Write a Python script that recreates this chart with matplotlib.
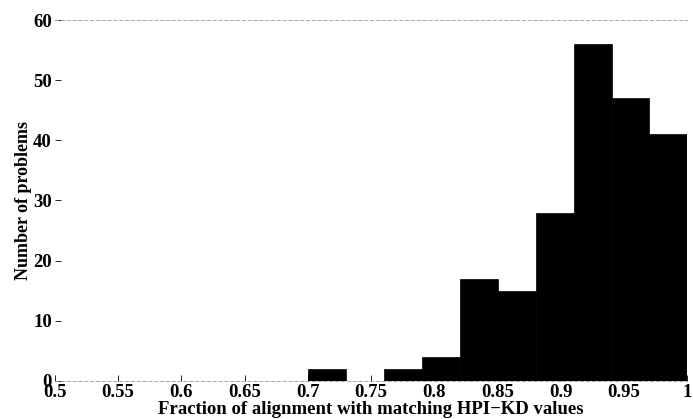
import matplotlib
matplotlib.use("Agg")
import matplotlib.pyplot as plt
import numpy as np

bin_edges = [0.70, 0.73, 0.76, 0.79, 0.82, 0.85, 0.88, 0.91, 0.94, 0.97, 1.00]
counts = [2, 0, 2, 4, 17, 15, 28, 56, 47, 41]
xticks = [0.5, 0.55, 0.6, 0.65, 0.7, 0.75, 0.8, 0.85, 0.9, 0.95, 1]
xtick_labels = ["0.5", "0.55", "0.6", "0.65", "0.7", "0.75", "0.8", "0.85", "0.9", "0.95", "1"]
yticks = [0, 10, 20, 30, 40, 50, 60]

plt.rcParams['font.family'] = ['Liberation Serif', 'DejaVu Serif']
plt.rcParams['font.weight'] = 'bold'

fig = plt.figure(figsize=(6.93, 4.19), dpi=100)
ax = fig.add_axes([0.079, 0.091, 0.913, 0.861])

edges = np.array(bin_edges)
ax.bar(edges[:-1], counts, width=np.diff(edges), align='edge', color='black', edgecolor='black', linewidth=0.5)

ax.set_xlim(0.5, 1.0)
ax.set_ylim(0, 60)
ax.set_xticks(xticks)
ax.set_xticklabels(xtick_labels)
ax.set_yticks(yticks)
ax.tick_params(direction='in', length=4, width=0.6, labelsize=13.5, pad=2, colors='black')
for lab in ax.get_xticklabels() + ax.get_yticklabels():
    lab.set_fontweight('bold')

for s in ['top', 'bottom']:
    ax.spines[s].set_linestyle((0, (4, 3)))
    ax.spines[s].set_linewidth(0.6)
    ax.spines[s].set_color('#999999')
ax.spines['left'].set_visible(False)
ax.spines['right'].set_visible(False)

ax.set_xlabel("Fraction of alignment with matching HPI\u2212KD values", fontsize=13.5, fontweight='bold', labelpad=0)
ax.set_ylabel("Number of problems", fontsize=13, fontweight='bold', labelpad=1)

fig.savefig("out.png", dpi=100)
